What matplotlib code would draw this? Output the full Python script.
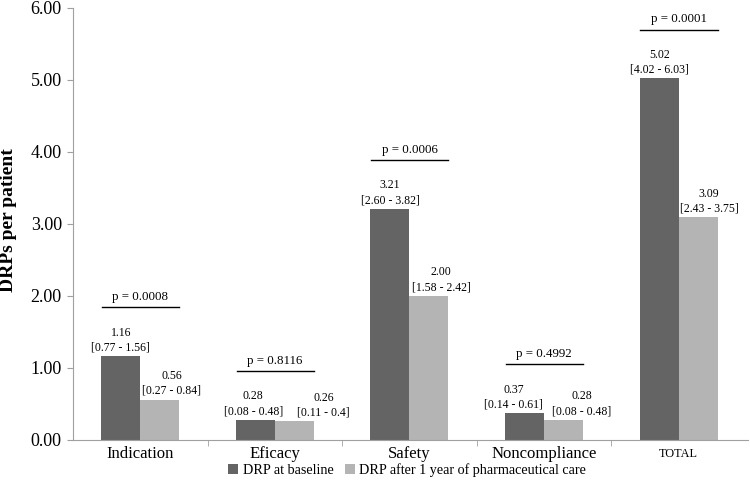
import matplotlib
matplotlib.use("Agg")
import matplotlib.pyplot as plt
import numpy as np
from matplotlib.ticker import FixedLocator, NullFormatter

categories = ["Indication", "Eficacy", "Safety", "Noncompliance", "TOTAL"]
baseline = [1.16, 0.28, 3.21, 0.37, 5.02]
baseline_ci = ["[0.77 - 1.56]", "[0.08 - 0.48]", "[2.60 - 3.82]", "[0.14 - 0.61]", "[4.02 - 6.03]"]
after = [0.56, 0.26, 2.00, 0.28, 3.09]
after_ci = ["[0.27 - 0.84]", "[0.11 - 0.4]", "[1.58 - 2.42]", "[0.08 - 0.48]", "[2.43 - 3.75]"]
pvalues = ["p = 0.0008", "p = 0.8116", "p = 0.0006", "p = 0.4992", "p = 0.0001"]
series_names = ["DRP at baseline", "DRP after 1 year of pharmaceutical care"]

# label horizontal nudges (pixels), as placed in the original
dark_dx = [0, -2, 0, -11, 0]
light_dx = [12, 29, 12, 18, 11]

plt.rcParams['font.family'] = ['Liberation Serif', 'DejaVu Serif']

fig = plt.figure(figsize=(7.5, 4.86), dpi=100)
ax = fig.add_axes([0.0973, 0.0947, 0.9, 0.889])

x = np.arange(len(categories))
w = 0.29
dark = "#646464"
light = "#b4b4b4"
ax.bar(x - w / 2, baseline, w, color=dark, label=series_names[0])
ax.bar(x + w / 2, after, w, color=light, label=series_names[1])

for xi, v, ci, dx in zip(x - w / 2, baseline, baseline_ci, dark_dx):
    ax.annotate(f"{v:.2f}\n{ci}", (xi, v), xytext=(dx * 0.72, 2), textcoords="offset points",
                ha="center", va="bottom", fontsize=8.5, linespacing=1.3)
for xi, v, ci, dx in zip(x + w / 2, after, after_ci, light_dx):
    ax.annotate(f"{v:.2f}\n{ci}", (xi, v), xytext=(dx * 0.72, 2), textcoords="offset points",
                ha="center", va="bottom", fontsize=8.5, linespacing=1.3)

for xi, b, a, p in zip(x, baseline, after, pvalues):
    y = max(b, a) + 0.68
    ax.plot([xi - 0.285, xi + 0.29], [y, y], color="black", lw=1)
    ax.annotate(p, (xi, y), xytext=(0, 3), textcoords="offset points",
                ha="center", va="bottom", fontsize=9.3)

ax.set_xlim(-0.5, len(categories) - 0.485)
ax.set_ylim(0, 6)
ax.set_yticks(np.arange(0, 6.01, 1))
ax.set_yticklabels([f"{t:.2f}" for t in np.arange(0, 6.01, 1)], fontsize=13)
ax.set_xticks(x)
ax.set_xticklabels(categories, fontsize=12)
ax.get_xticklabels()[-1].set_fontsize(8.8)
for lab in ax.get_xticklabels():
    lab.set_va("center")
ax.tick_params(axis="x", which="major", length=0, pad=10)
ax.xaxis.set_minor_locator(FixedLocator(np.arange(0.5, len(categories) - 1, 1)))
ax.xaxis.set_minor_formatter(NullFormatter())
ax.tick_params(axis="x", which="minor", length=4, color="#a0a0a0", direction="out")
ax.tick_params(axis="y", length=4, color="#a0a0a0", direction="out", pad=4)

for s in ["top", "right"]:
    ax.spines[s].set_visible(False)
for s in ["left", "bottom"]:
    ax.spines[s].set_color("#a0a0a0")

fig.text(9 / 750, 1 - 220 / 486, "DRPs per patient", rotation=90, ha="center", va="center",
         fontsize=14, fontweight="bold")

ax.legend(loc="center", bbox_to_anchor=(407 / 750, 1 - 470 / 486), bbox_transform=fig.transFigure,
          ncol=2, frameon=False, fontsize=10.2, handlelength=0.7, handleheight=0.7,
          handletextpad=0.3, columnspacing=0.8, borderaxespad=0, borderpad=0)

fig.savefig("out.png", dpi=100)
